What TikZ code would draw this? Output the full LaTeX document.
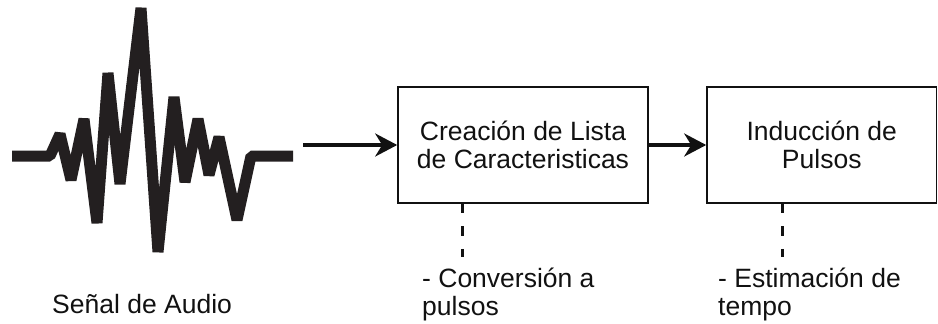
\documentclass[tikz,border=0pt]{standalone}
\usepackage{fontspec}
\setmainfont{Liberation Sans}
\usetikzlibrary{arrows.meta}
\definecolor{wave}{HTML}{231F20}
\definecolor{ink}{HTML}{111111}
\tikzset{
  x=1pt, y=-1pt,
  every node/.style={font=\fontsize{26.5}{28}\selectfont, text=ink},
  procbox/.style={draw=ink, line width=1.6pt, minimum height=116pt, inner sep=0pt, align=center},
  flowarrow/.style={draw=ink, line width=3.2pt, -{Stealth[length=22pt, width=23pt, inset=7pt]}},
  dashlink/.style={draw=ink, line width=3pt, dash pattern=on 9.5pt off 13pt},
  plain/.style={inner sep=0pt, align=left},
  wavestroke/.style={draw=wave, line width=11pt, line join=bevel, line cap=butt}
}
\begin{document}
\begin{tikzpicture}
\useasboundingbox (0,0) rectangle (938,324);
% audio waveform
\draw[wavestroke] (12,156) -- (50,156) -- (60,134) -- (71,180) -- (84,119) -- (97,223)
  -- (108,73) -- (120,184) -- (141,8) -- (158,252) -- (174,97) -- (185,182)
  -- (198,119) -- (209,175) -- (219,137) -- (237,220) -- (251,156) -- (293,156);
\node[plain, anchor=base west] (senal) at (52,313) {Señal de Audio};
% boxes
\node[procbox, minimum width=250pt] (crea) at (523,145) {Creación de Lista\\de Caracteristicas};
\node[procbox, minimum width=229.5pt] (indu) at (821.75,145) {Inducción de\\Pulsos};
% arrows
\coordinate (wavend) at (303,145);
\draw[flowarrow] (wavend) -- (crea.west);
\draw[flowarrow] (crea.east) -- (indu.west);
% dashed links
\coordinate (d1) at (462,257);
\coordinate (d2) at (782,257);
\draw[dashlink] (d1 |- crea.south) -- (d1);
\draw[dashlink] (d2 |- indu.south) -- (d2);
% notes (base anchor sits on the last line)
\node[plain, anchor=base west] (note1) at (422,315) {- Conversión a\\pulsos};
\node[plain, anchor=base west] (note2) at (718,315) {- Estimación de\\tempo};
\end{tikzpicture}
\end{document}
